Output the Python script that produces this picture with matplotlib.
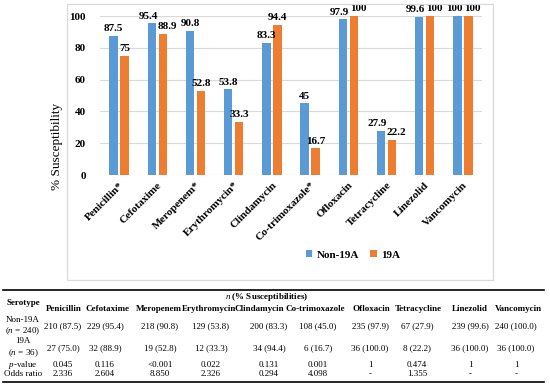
import numpy as np
import matplotlib
matplotlib.use("Agg")
import matplotlib.pyplot as plt
from matplotlib.patches import Rectangle
from matplotlib.lines import Line2D

plt.rcParams['font.family'] = ['Liberation Serif', 'DejaVu Serif']
plt.rcParams['mathtext.fontset'] = 'custom'
plt.rcParams['mathtext.rm'] = 'Liberation Serif'
plt.rcParams['mathtext.it'] = 'Liberation Serif:italic'
plt.rcParams['mathtext.bf'] = 'Liberation Serif:bold'

# data
drugs = ['Penicillin*', 'Cefotaxime', 'Meropenem*', 'Erythromycin*', 'Clindamycin',
         'Co-trimoxazole*', 'Ofloxacin', 'Tetracycline', 'Linezolid', 'Vancomycin']
non19a = [87.5, 95.4, 90.8, 53.8, 83.3, 45, 97.9, 27.9, 99.6, 100]
sero19a = [75, 88.9, 52.8, 33.3, 94.4, 16.7, 100, 22.2, 100, 100]

tab_cols = ['Penicillin', 'Cefotaxime', 'Meropenem', 'Erythromycin', 'Clindamycin',
            'Co-trimoxazole', 'Ofloxacin', 'Tetracycline', 'Linezolid', 'Vancomycin']
tab_non19a = ['210 (87.5)', '229 (95.4)', '218 (90.8)', '129 (53.8)', '200 (83.3)',
              '108 (45.0)', '235 (97.9)', '67 (27.9)', '239 (99.6)', '240 (100.0)']
tab_19a = ['27 (75.0)', '32 (88.9)', '19 (52.8)', '12 (33.3)', '34 (94.4)',
           '6 (16.7)', '36 (100.0)', '8 (22.2)', '36 (100.0)', '36 (100.0)']
tab_p = ['0.045', '0.116', '<0.001', '0.022', '0.131', '0.001', '1', '0.474', '1', '1']
tab_or = ['2.336', '2.604', '8.850', '2.326', '0.294', '4.098', '-', '1.355', '-', '-']

blue = '#5B9BD5'
orange = '#ED7D31'

W, H = 550, 386
fig = plt.figure(figsize=(5.5, 3.86), dpi=100)

def fx(px):
    return px / W

def fy(py):
    return 1 - py / H

# chart frame
fig.patches.append(Rectangle((fx(67), fy(280)), fx(493) - fx(67), fy(4) - fy(280),
                             transform=fig.transFigure, fill=False,
                             edgecolor='#d9d9d9', linewidth=0.9))

ax = fig.add_axes([fx(100), fy(175), fx(482) - fx(100), fy(16) - fy(175)])
x = np.arange(len(drugs))
w = 0.22
b1 = ax.bar(x - 0.144, non19a, w, color=blue, label='Non-19A', zorder=3)
b2 = ax.bar(x + 0.144, sero19a, w, color=orange, label='19A', zorder=3)
lab1 = ax.bar_label(b1, fmt='%g', padding=2, fontsize=8, fontweight='bold')
lab2 = ax.bar_label(b2, fmt='%g', padding=2, fontsize=8, fontweight='bold')
# push apart labels of similar height so they don't collide
for a, b, t1, t2 in zip(non19a, sero19a, lab1, lab2):
    if abs(a - b) < 8:
        t1.xyann = (-2.5, 2)
        t2.xyann = (3, 2)

ax.set_xlim(-0.5, len(drugs) - 0.5)
ax.set_ylim(0, 100)
ax.set_yticks(range(0, 101, 20))
ax.grid(axis='y', color='#d9d9d9', linewidth=0.8, zorder=0)
for s in ax.spines.values():
    s.set_visible(False)
ax.tick_params(length=0)
ax.tick_params(axis='y', pad=10, labelsize=8)
ax.set_yticklabels([str(v) for v in range(0, 101, 20)], fontweight='bold')
ax.set_xticks(x)
ax.set_xticklabels(drugs, rotation=45, ha='right', rotation_mode='anchor',
                   fontsize=8, fontweight='bold')
ax.tick_params(axis='x', pad=4)

fig.text(fx(57), fy(146), '% Susceptibility', rotation=90, ha='center', va='center', fontsize=9.5)

fig.legend(handles=[b1, b2], labels=['Non-19A', '19A'], loc='center',
           bbox_to_anchor=(fx(353), fy(255)), ncol=2, frameon=False,
           prop={'weight': 'bold', 'size': 8}, handlelength=0.6, handleheight=0.6,
           handletextpad=0.4, columnspacing=1.0)

# table
fig.add_artist(Line2D([fx(3), fx(544)], [fy(290), fy(290)], color='black', lw=1.2))
fig.add_artist(Line2D([fx(3), fx(544)], [fy(382), fy(382)], color='black', lw=1.2))

hx = [64, 107, 159, 209, 259, 315, 371, 418, 470, 518]
vx = [63, 105, 160, 211, 269, 318, 370, 417, 470, 516]
ts = 6.5
fig.text(fx(23), fy(303), 'Serotype', ha='center', va='center', fontsize=ts, fontweight='bold')
fig.text(fx(267), fy(297), r'$\mathbf{\it{n}}$ (% Susceptibilities)', ha='center', va='center',
         fontsize=ts, fontweight='bold')
for i in range(len(tab_cols)):
    fig.text(fx(hx[i]), fy(309), tab_cols[i], ha='center', va='center', fontsize=ts, fontweight='bold')
    fig.text(fx(vx[i]), fy(326), tab_non19a[i], ha='center', va='center', fontsize=ts)
    fig.text(fx(vx[i]), fy(348), tab_19a[i], ha='center', va='center', fontsize=ts)
    fig.text(fx(vx[i]), fy(365), tab_p[i], ha='center', va='center', fontsize=ts)
    fig.text(fx(vx[i]), fy(374), tab_or[i], ha='center', va='center', fontsize=ts)

fig.text(fx(23), fy(320), 'Non-19A', ha='center', va='center', fontsize=ts)
fig.text(fx(23), fy(331), r'($\it{n}$ = 240)', ha='center', va='center', fontsize=ts)
fig.text(fx(23), fy(341), '19A', ha='center', va='center', fontsize=ts)
fig.text(fx(23), fy(353), r'($\it{n}$ = 36)', ha='center', va='center', fontsize=ts)
fig.text(fx(23), fy(365), r'$\it{p}$-value', ha='center', va='center', fontsize=ts)
fig.text(fx(23), fy(374), 'Odds ratio', ha='center', va='center', fontsize=ts)

fig.savefig('out.png', dpi=100)
